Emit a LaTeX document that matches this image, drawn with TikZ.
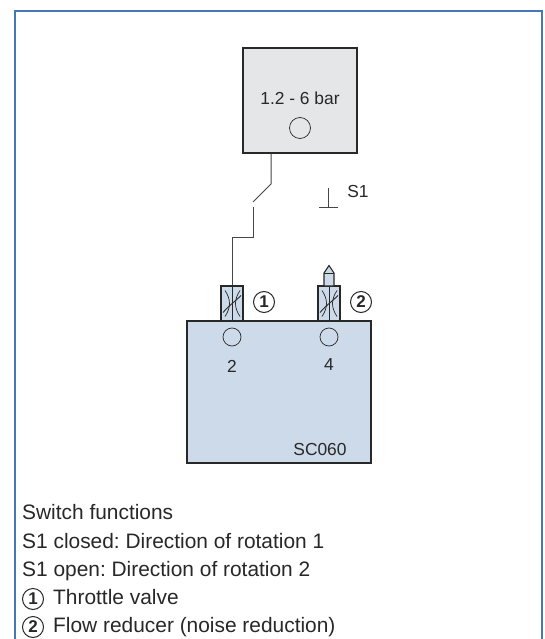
\documentclass[tikz,border=0pt]{standalone}
\usepackage{fontspec}
\setmainfont{Liberation Sans}
\usetikzlibrary{calc}
\definecolor{framecol}{RGB}{70,120,185}
\definecolor{boxgray}{RGB}{229,230,231}
\definecolor{boxblue}{RGB}{204,218,234}
\definecolor{ink}{RGB}{40,40,40}
\definecolor{wirecol}{RGB}{70,70,70}
\tikzset{
 solid box/.style={draw=ink,line width=1.3pt},
 port/.style={circle,draw=ink,line width=.7pt,minimum size=18pt,inner sep=0pt},
 lab/.style={font=\fontsize{17.4pt}{19pt}\selectfont,text=ink,inner sep=0pt},
 txt/.style={font=\frenchspacing\fontsize{20.9pt}{22pt}\selectfont,text=ink,inner sep=0pt,anchor=base west},
 num/.style={circle,draw=ink,line width=1pt,minimum size=21pt,inner sep=0pt,font=\bfseries\fontsize{17pt}{17pt}\selectfont,text=ink},
 wire/.style={draw=wirecol,line width=1pt},
 valve/.style={draw=ink,line width=1.3pt,fill=boxblue,minimum width=22pt,minimum height=35pt,inner sep=0pt}
}
\newcommand{\valvesym}[1]{%
 \draw[ink,line width=.7pt] (#1.north) -- (#1.south);
 \draw[ink,line width=.7pt] ($(#1.center)+(-7,-13)$) .. controls ($(#1.center)+(-1,-4)$) and ($(#1.center)+(-1,4)$) .. ($(#1.center)+(-7,13)$);
 \draw[ink,line width=.7pt] ($(#1.center)+(8,-13)$) .. controls ($(#1.center)+(2,-4)$) and ($(#1.center)+(2,4)$) .. ($(#1.center)+(8,13)$);
 \draw[ink,line width=.9pt] ($(#1.center)+(-9,9)$) .. controls ($(#1.center)+(-3,2)$) and ($(#1.center)+(3,-2)$) .. ($(#1.center)+(9,-8)$);
}
\begin{document}
\begin{tikzpicture}[x=1pt,y=-1pt]
\useasboundingbox (0,0) rectangle (544,639);
\fill[white] (0,0) rectangle (544,639);
\draw[framecol,line width=1.5pt] (15,639) -- (15,11) -- (542,11) -- (542,639);
\node[solid box,fill=boxgray,minimum width=114pt,minimum height=105pt,inner sep=0pt] (reg) at (300,100.5) {};
\node[lab] (bar) at (300,98) {1.2 - 6 bar};
\node[port,minimum size=21pt] (regport) at (300,128) {};
\node[solid box,fill=boxblue,minimum width=184pt,minimum height=142pt,inner sep=0pt] (block) at (279,392) {};
\node[valve] (v1) at (232,303.5) {};
\node[valve] (v2) at (329,303.5) {};
\valvesym{v1}
\valvesym{v2}
\node[port] (p2) at (232,337) {};
\node[port] (p4) at (329,337) {};
\node[lab] (l2) at (232,366) {2};
\node[lab] (l4) at (329,365) {4};
\node[lab] (sc) at (320,450) {SC060};
\node[num] (n1) at (264,302) {1};
\node[num] (n2) at (361,302) {2};
\node[lab] (s1) at (358,192) {S1};
\coordinate (sw1) at (271,153);
\coordinate (sw2) at (271,184);
\coordinate (sw3) at (253,202);
\coordinate (sw3b) at (253,207);
\coordinate (sw4) at (253,237);
\coordinate (sw5) at (232,237);
\draw[wire] (reg.south -| sw1) -- (sw2) -- (sw3);
\draw[wire] (sw3b) -- (sw4) -- (sw5) -- (v1.north);
\coordinate (t1) at (328,188);
\coordinate (t2) at (328,207);
\coordinate (t3) at (319,207);
\coordinate (t4) at (338,207);
\draw[wire,line width=.8pt] (t1) -- (t2) (t3) -- (t4);
\draw[solid box,fill=boxblue,line width=1.1pt] (324,286) -- (324,273) -- (329,265.5) -- (334,273) -- (334,286) -- cycle;
\draw[ink,line width=.8pt] (324,273) -- (334,273);
\node[txt] (t1l) at (22,519) {Switch functions};
\node[txt] (t2l) at (22,548) {S1 closed: Direction of rotation 1};
\node[txt] (t3l) at (22,576) {S1 open: Direction of rotation 2};
\node[txt] (t4l) at (53,604) {Throttle valve};
\node[txt] (t5l) at (53,632) {Flow reducer (noise reduction)};
\node[num] (m1) at (33,599) {1};
\node[num] (m2) at (33,627) {2};
\end{tikzpicture}
\end{document}
